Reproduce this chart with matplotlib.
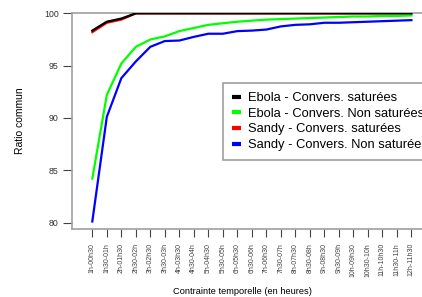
import matplotlib
matplotlib.use('Agg')
import matplotlib.pyplot as plt

plt.rcParams['font.family'] = ['Liberation Sans', 'DejaVu Sans']

labels = ['1h-00h30', '1h30-01h', '2h-01h30', '2h30-02h', '3h-02h30', '3h30-03h',
          '4h-03h30', '4h30-04h', '5h-04h30', '5h30-05h', '6h-05h30', '6h30-06h',
          '7h-06h30', '7h30-07h', '8h-07h30', '8h30-08h', '9h-08h30', '9h30-09h',
          '10h-09h30', '10h30-10h', '11h-10h30', '11h30-11h', '12h-11h30']

ebola_sat = [98.35, 99.2, 99.5] + [100.0] * 20
ebola_nonsat = [84.2, 92.2, 95.2, 96.8, 97.5, 97.8, 98.3, 98.6, 98.9, 99.05, 99.2, 99.3,
                99.4, 99.45, 99.5, 99.55, 99.6, 99.65, 99.7, 99.7, 99.75, 99.75, 99.8]
sandy_sat = [98.2, 99.1, 99.4] + [100.0] * 20
sandy_nonsat = [80.1, 90.1, 93.8, 95.4, 96.8, 97.35, 97.4, 97.75, 98.05, 98.05, 98.3, 98.35,
                98.45, 98.75, 98.9, 98.95, 99.1, 99.1, 99.15, 99.2, 99.25, 99.3, 99.35]

x = list(range(len(labels)))

fig = plt.figure(figsize=(4.22, 2.97), dpi=100)
ax = fig.add_axes([72 / 422, 1 - 229 / 297, 368 / 422, 216.5 / 297])

ax.plot(x, sandy_sat, color='#ff0000', lw=1.6, label='Sandy - Convers. saturées', zorder=2)
ax.plot(x, ebola_sat, color='black', lw=1.6, label='Ebola - Convers. saturées', zorder=3)
ax.plot(x, ebola_nonsat, color='#00ff00', lw=1.6, label='Ebola - Convers. Non saturées', zorder=2)
ax.plot(x, sandy_nonsat, color='#0000ff', lw=1.6, label='Sandy - Convers. Non saturées', zorder=2)

ax.set_xlim(-1.4, 23.97)
ax.set_ylim(79.38, 100.08)

ax.set_yticks([80, 85, 90, 95, 100])
ax.set_xticks(x)
ax.set_xticklabels(labels, rotation=90, fontsize=5, color='#333333')
ax.tick_params(axis='y', labelsize=6.3, length=6.5, width=0.8, pad=3,
               colors='#444444', labelcolor='#333333')
ax.tick_params(axis='x', length=6, width=0.8, pad=4, colors='#444444')

for side in ['left', 'bottom', 'top']:
    ax.spines[side].set_color('#a0a0a0')
    ax.spines[side].set_linewidth(1.2)
ax.spines['right'].set_visible(False)

fig.text(20 / 422, 1 - 121 / 297, 'Ratio commun', rotation=90, fontsize=7.5,
         ha='center', va='center')
fig.text(242 / 422, 1 - 291 / 297, 'Contrainte temporelle (en heures)', fontsize=6.7,
         ha='center', va='center')

handles, names = ax.get_legend_handles_labels()
order = [1, 2, 0, 3]
leg = fig.legend([handles[i] for i in order], [names[i] for i in order],
                 loc='upper left', bbox_to_anchor=(223 / 422, 1 - 83 / 297),
                 fontsize=9.3, fancybox=False, framealpha=1, edgecolor='#a0a0a0',
                 handlelength=0.7, handletextpad=0.55, labelspacing=0.28,
                 borderpad=0.7, borderaxespad=0)
leg.get_frame().set_linewidth(1.2)
for line in leg.get_lines():
    line.set_linewidth(3)
    line.set_solid_capstyle('butt')

fig.savefig('out.png', dpi=100)
